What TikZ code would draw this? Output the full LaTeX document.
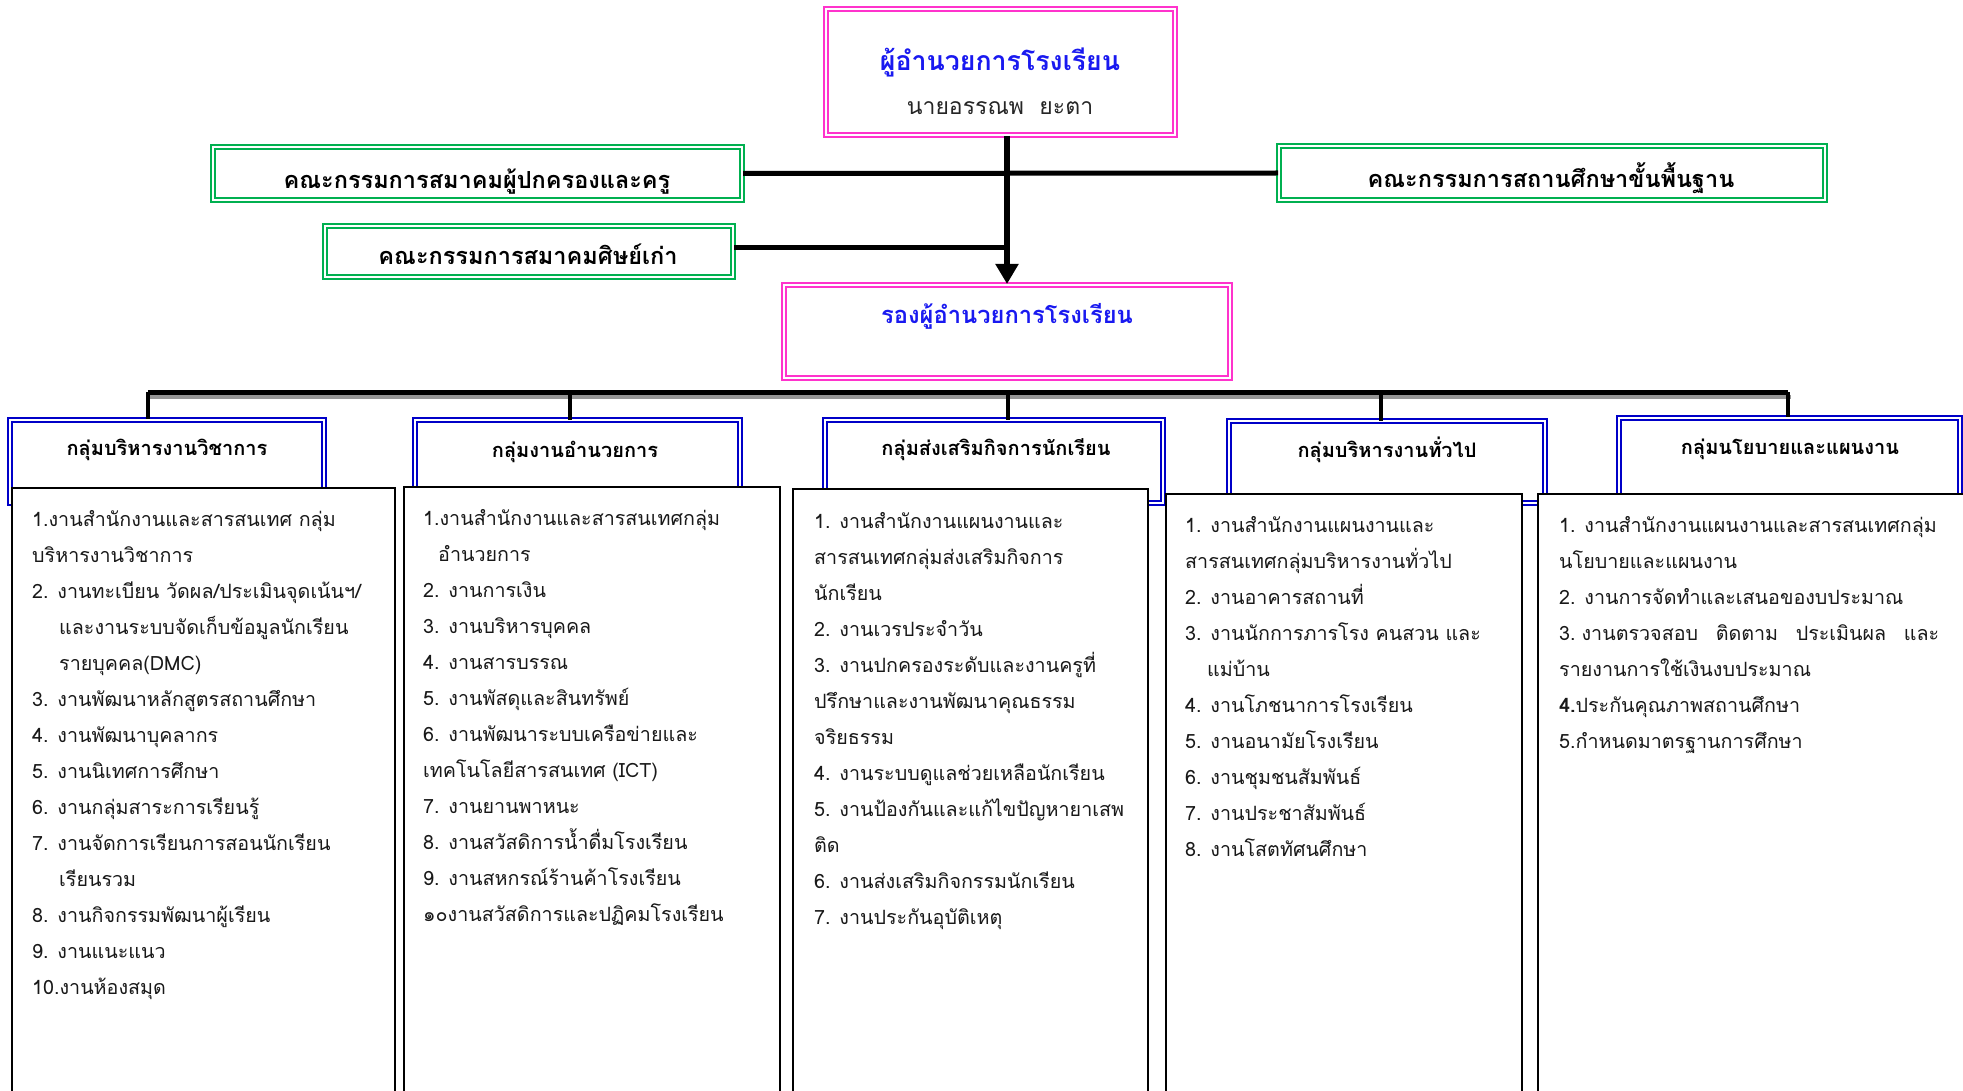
\documentclass[tikz,border=0pt]{standalone}
\usepackage{fontspec}
\setmainfont[Script=Thai]{Loma}
\usetikzlibrary{arrows.meta}
\definecolor{pinkb}{RGB}{255,51,204}
\definecolor{greenb}{RGB}{0,176,80}
\definecolor{blueb}{RGB}{0,0,200}
\definecolor{titleblue}{RGB}{25,25,240}
\definecolor{shadowgray}{RGB}{150,150,150}
\newcommand{\itemlines}[1]{\vtop{\lineskiplimit=-\maxdimen\halign{##\hfil\cr#1\crcr}}}
\begin{document}
\begin{tikzpicture}[x=1pt,y=-1pt,
  pinkbox/.style={draw=pinkb, double=white, double distance=2pt, line width=2pt, fill=white, inner sep=0pt, rectangle},
  greenbox/.style={draw=greenb, double=white, double distance=2pt, line width=2pt, fill=white, inner sep=0pt, rectangle},
  bluebox/.style={draw=blueb, double=white, double distance=2pt, line width=2pt, fill=white, inner sep=0pt, rectangle},
  listbox/.style={draw=black, line width=1.8pt, fill=white, inner sep=0pt, rectangle},
  conn/.style={line width=5pt, draw=black},
  drop/.style={line width=4pt, draw=black},
  titletxt/.style={font=\bfseries\fontsize{26.7}{30}\selectfont, text=titleblue, inner sep=0pt, anchor=base},
  deptxt/.style={font=\bfseries\fontsize{23.7}{28}\selectfont, text=titleblue, inner sep=0pt, anchor=base},
  nametxt/.style={font=\fontsize{23}{27}\selectfont, text=black!85, inner sep=0pt, anchor=base},
  greentxt/.style={font=\bfseries\fontsize{23.5}{27}\selectfont, text=black, inner sep=0pt, anchor=base},
  headtxt/.style={font=\bfseries\fontsize{20}{24}\selectfont, text=black, inner sep=0pt, anchor=base},
  listtxt/.style={font=\fontsize{19.7}{36}\selectfont, text=black!90, inner sep=0pt, anchor=base west}
]
\useasboundingbox (0,0) rectangle (1963,1091);
\clip (0,0) rectangle (1963,1091);
\fill[white] (0,0) rectangle (1963,1091);

% top boxes
\node[pinkbox, minimum width=349pt, minimum height=126pt] (dir) at (1000.5,72) {};
\node[titletxt] (dirt) at (1000,71) {ผู้อำนวยการโรงเรียน};
\node[nametxt] (dirn) at (1000,115) {นายอรรณพ\ \ ยะตา};

\node[greenbox, minimum width=529pt, minimum height=53pt] (pta) at (477.5,173.5) {};
\node[greentxt] (ptat) at (477,189) {คณะกรรมการสมาคมผู้ปกครองและครู};
\node[greenbox, minimum width=408pt, minimum height=51pt] (alum) at (529,251.5) {};
\node[greentxt] (alumt) at (528,265) {คณะกรรมการสมาคมศิษย์เก่า};
\node[greenbox, minimum width=546pt, minimum height=54pt] (board) at (1552,173) {};
\node[greentxt] (boardt) at (1551,188) {คณะกรรมการสถานศึกษาขั้นพื้นฐาน};

\node[pinkbox, minimum width=446pt, minimum height=93pt] (dep) at (1007,331.5) {};
\node[deptxt] (dept) at (1007,324) {รองผู้อำนวยการโรงเรียน};

% connectors top
\draw[conn] (pta.east) -- (board.west);
\draw[conn] ([shift={(0,-4)}]alum.east) -- ([shift={(0,-4)}]alum.east -| dep.north);
\draw[line width=6pt, -{Triangle[length=20pt,width=22pt]}] (dep.north |- dir.south) -- (dep.north);

% bus
\coordinate (busL) at (148,392);
\coordinate (busR) at (1788,392);
\draw[line width=4pt, shadowgray] ([shift={(2,5)}]busL) -- ([shift={(3,5)}]busR);
\draw[conn] (busL) -- (busR);

% header boxes
\node[bluebox, minimum width=314pt, minimum height=83pt] (h1) at (167,461.5) {};
\node[bluebox, minimum width=325pt, minimum height=83pt] (h2) at (577.5,461.5) {};
\node[bluebox, minimum width=338pt, minimum height=83pt] (h3) at (994,461.5) {};
\node[bluebox, minimum width=316pt, minimum height=82pt] (h4) at (1387,462) {};
\node[bluebox, minimum width=341pt, minimum height=85pt] (h5) at (1789.5,460.5) {};

\draw[drop] (busL) -- (busL |- h1.north);
\draw[drop] (570,392) -- (570,420) coordinate (d2);
\draw[drop] (1008,392) -- (1008,420) coordinate (d3);
\draw[drop] (1381,392) -- (1381,421) coordinate (d4);
\draw[drop] (busR) -- (busR |- h5.north);

\node[headtxt] (h1t) at (167,455) {กลุ่มบริหารงานวิชาการ};
\node[headtxt] (h2t) at (575,457) {กลุ่มงานอำนวยการ};
\node[headtxt] (h3t) at (996,455) {กลุ่มส่งเสริมกิจการนักเรียน};
\node[headtxt] (h4t) at (1387,457) {กลุ่มบริหารงานทั่วไป};
\node[headtxt] (h5t) at (1790,454) {กลุ่มนโยบายและแผนงาน};

% list boxes
\node[listbox, minimum width=383pt, minimum height=620pt, anchor=north west] (c1) at (11,487) {};
\node[listbox, minimum width=376pt, minimum height=620pt, anchor=north west] (c2) at (403,486) {};
\node[listbox, minimum width=355pt, minimum height=620pt, anchor=north west] (c3) at (792,488) {};
\node[listbox, minimum width=356pt, minimum height=620pt, anchor=north west] (c4) at (1165,493) {};
\node[listbox, minimum width=430pt, minimum height=620pt, anchor=north west] (c5) at (1537,493) {};

\node[listtxt] (l1) at (32,526) {\itemlines{%
1.งานสำนักงานและสารสนเทศ กลุ่ม\cr
บริหารงานวิชาการ\cr
2. งานทะเบียน วัดผล/ประเมินจุดเน้นฯ/\cr
\hspace*{27pt}และงานระบบจัดเก็บข้อมูลนักเรียน\cr
\hspace*{27pt}รายบุคคล(DMC)\cr
3. งานพัฒนาหลักสูตรสถานศึกษา\cr
4. งานพัฒนาบุคลากร\cr
5. งานนิเทศการศึกษา\cr
6. งานกลุ่มสาระการเรียนรู้\cr
7. งานจัดการเรียนการสอนนักเรียน\cr
\hspace*{27pt}เรียนรวม\cr
8. งานกิจกรรมพัฒนาผู้เรียน\cr
9. งานแนะแนว\cr
10.งานห้องสมุด}};

\node[listtxt] (l2) at (423,525) {\itemlines{%
1.งานสำนักงานและสารสนเทศกลุ่ม\cr
\hspace*{15pt}อำนวยการ\cr
2. งานการเงิน\cr
3. งานบริหารบุคคล\cr
4. งานสารบรรณ\cr
5. งานพัสดุและสินทรัพย์\cr
6. งานพัฒนาระบบเครือข่ายและ\cr
เทคโนโลยีสารสนเทศ (ICT)\cr
7. งานยานพาหนะ\cr
8. งานสวัสดิการน้ำดื่มโรงเรียน\cr
9. งานสหกรณ์ร้านค้าโรงเรียน\cr
๑๐งานสวัสดิการและปฏิคมโรงเรียน}};

\node[listtxt] (l3) at (814,528) {\itemlines{%
1. งานสำนักงานแผนงานและ\cr
สารสนเทศกลุ่มส่งเสริมกิจการ\cr
นักเรียน\cr
2. งานเวรประจำวัน\cr
3. งานปกครองระดับและงานครูที่\cr
ปรึกษาและงานพัฒนาคุณธรรม\cr
จริยธรรม\cr
4. งานระบบดูแลช่วยเหลือนักเรียน\cr
5. งานป้องกันและแก้ไขปัญหายาเสพ\cr
ติด\cr
6. งานส่งเสริมกิจกรรมนักเรียน\cr
7. งานประกันอุบัติเหตุ}};

\node[listtxt] (l4) at (1185,532) {\itemlines{%
1. งานสำนักงานแผนงานและ\cr
สารสนเทศกลุ่มบริหารงานทั่วไป\cr
2. งานอาคารสถานที่\cr
3. งานนักการภารโรง คนสวน และ\cr
\hspace*{22pt}แม่บ้าน\cr
4. งานโภชนาการโรงเรียน\cr
5. งานอนามัยโรงเรียน\cr
6. งานชุมชนสัมพันธ์\cr
7. งานประชาสัมพันธ์\cr
8. งานโสตทัศนศึกษา}};

\node[listtxt] (l5) at (1559,532) {\itemlines{%
1. งานสำนักงานแผนงานและสารสนเทศกลุ่ม\cr
นโยบายและแผนงาน\cr
2. งานการจัดทำและเสนอของบประมาณ\cr
\makebox[380pt][s]{3.\hspace{6pt}งานตรวจสอบ ติดตาม ประเมินผล และ}\cr
รายงานการใช้เงินงบประมาณ\cr
\textbf{4.}ประกันคุณภาพสถานศึกษา\cr
5.กำหนดมาตรฐานการศึกษา}};
\end{tikzpicture}
\end{document}
